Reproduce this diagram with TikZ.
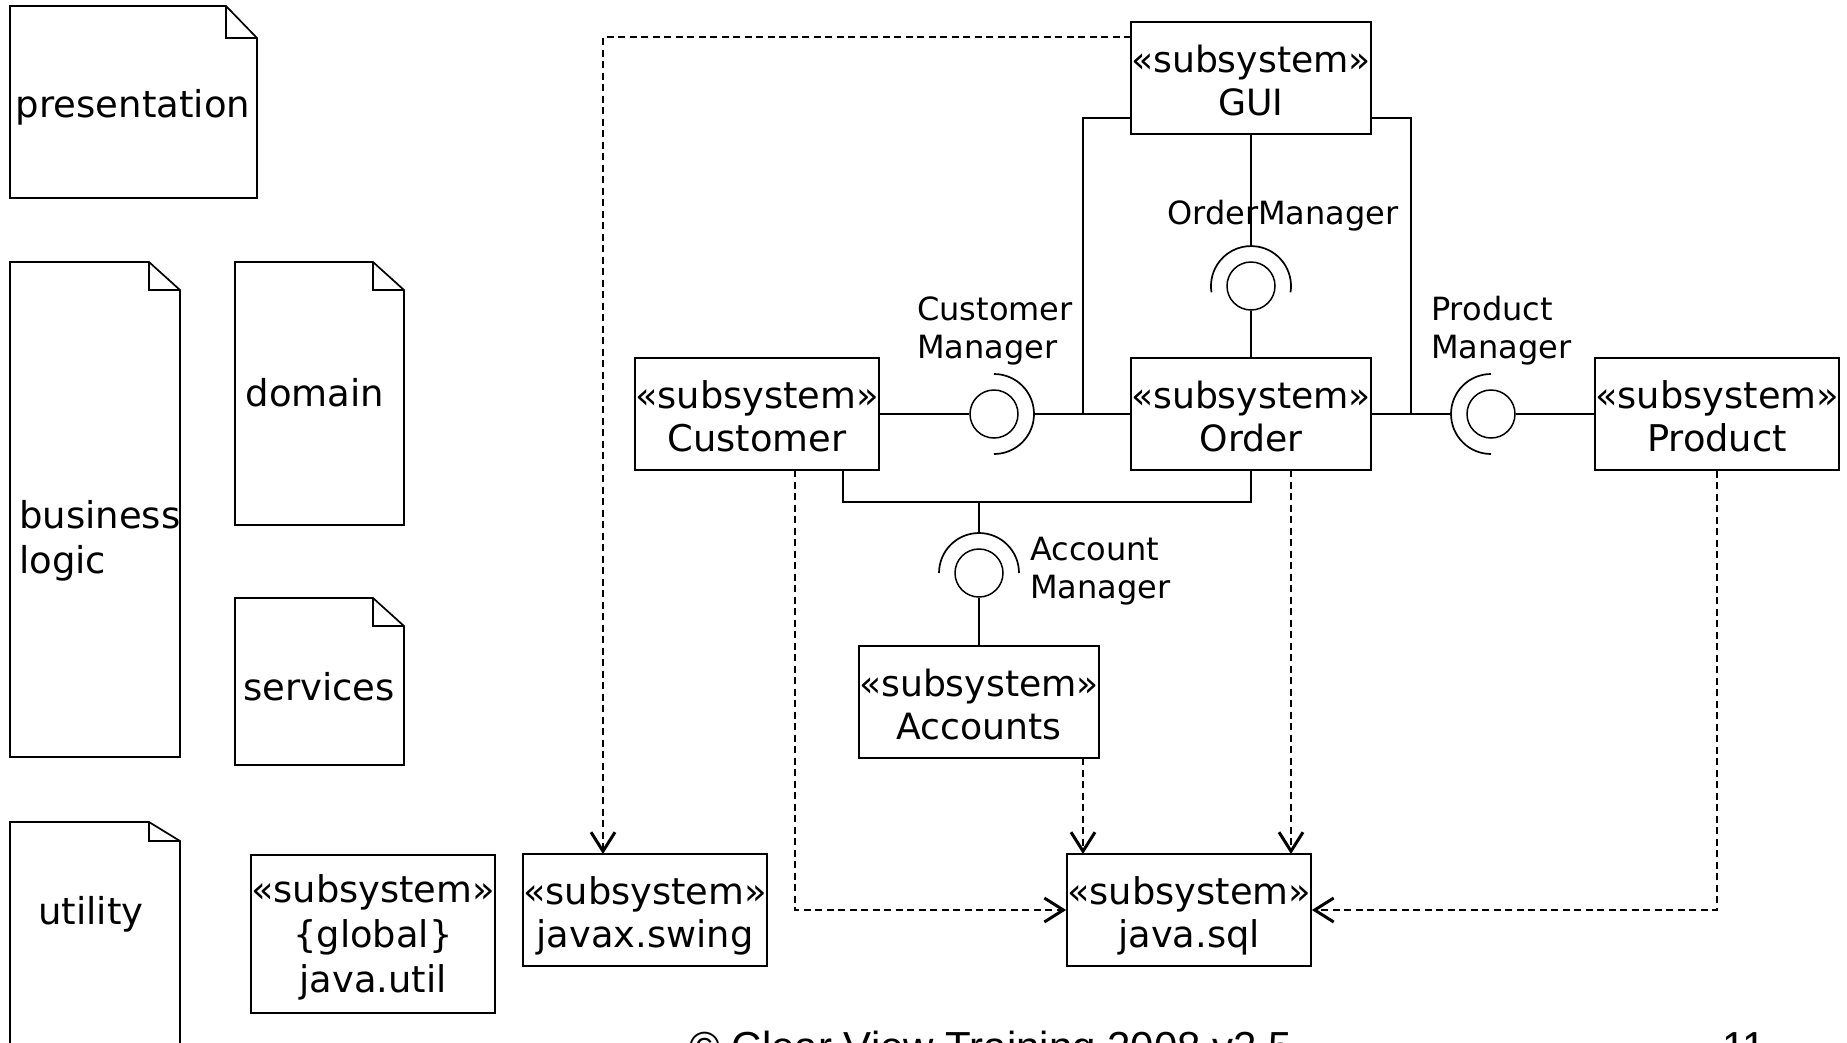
\documentclass[tikz,border=0pt]{standalone}
\usepackage{fontspec}
\setmainfont{DejaVu Sans}
\newfontfamily\footfont{Liberation Sans}
\usetikzlibrary{arrows.meta}
\newcommand{\zd}[1]{\raisebox{0pt}[\height][0pt]{#1}}
\newcommand{\stt}{\rule{0pt}{31.5pt}«subsystem»}
\begin{document}
\begin{tikzpicture}[x=1pt,y=-1pt,
  sub/.style={draw, line width=1.7pt, inner sep=0pt, minimum height=112pt, minimum width=244pt, align=center, font=\fontsize{36.8}{43}\selectfont},
  subn/.style={sub, minimum width=240pt, font=\fontsize{36.2}{43}\selectfont},
  ball/.style={draw, circle, line width=1.5pt, minimum size=48pt, inner sep=0pt},
  wire/.style={draw, line width=1.5pt},
  sock/.style={draw, line width=1.7pt},
  dep/.style={draw, line width=1.4pt, dash pattern=on 7pt off 4.5pt, -{Straight Barb[length=19pt,width=24pt,line width=3pt]}},
  notebox/.style={draw, line width=1.7pt, line join=miter},
  notetxt/.style={inner sep=0pt, font=\fontsize{37}{43}\selectfont},
  lbl/.style={inner sep=0pt, anchor=base west, font=\fontsize{32}{38}\selectfont},
]
\useasboundingbox (0,0) rectangle (1847,1042);
\clip (0,0) rectangle (1847,1042);

% notes (left column)
\draw[notebox] (10,6) -- (226,6) -- (257,38) -- (257,198) -- (10,198) -- cycle;
\draw[notebox] (226,6) -- (226,38) -- (257,38);
\node[notetxt, anchor=base] (presTxt) at (133,117) {presentation};

\draw[notebox] (10,262) -- (149,262) -- (180,290) -- (180,757) -- (10,757) -- cycle;
\draw[notebox] (149,262) -- (149,290) -- (180,290);
\node[notetxt, anchor=base west] (blTxt1) at (19,528) {business};
\node[notetxt, anchor=base west] (blTxt2) at (19,573) {logic};

\draw[notebox] (235,262) -- (373,262) -- (404,290) -- (404,525) -- (235,525) -- cycle;
\draw[notebox] (373,262) -- (373,290) -- (404,290);
\node[notetxt, anchor=base] (domTxt) at (315,406) {domain};

\draw[notebox] (235,598) -- (373,598) -- (404,626) -- (404,765) -- (235,765) -- cycle;
\draw[notebox] (373,598) -- (373,626) -- (404,626);
\node[notetxt, anchor=base] (srvTxt) at (319,700) {services};

\draw[notebox] (10,822) -- (149,822) -- (180,841) -- (180,1100) -- (10,1100) -- cycle;
\draw[notebox] (149,822) -- (149,841) -- (180,841);
\node[notetxt, anchor=base] (utilTxt) at (91,924) {utility};

% subsystems
\node[subn] (gui) at (1251,78) {\stt\\\zd{GUI}};
\node[subn] (order) at (1251,414) {\stt\\\zd{Order}};
\node[sub] (cust) at (757,414) {\stt\\\zd{Customer}};
\node[sub] (prod) at (1717,414) {\stt\\\zd{Product}};
\node[subn] (acc) at (979,702) {\stt\\\zd{Accounts}};
\node[sub] (swing) at (645,910) {\stt\\\zd{javax.swing}};
\node[sub] (sql) at (1189,910) {\stt\\\zd{java.sql}};
\node[sub, minimum height=158pt, font=\fontsize{36.8}{45}\selectfont] (util) at (373,934) {«subsystem»\\\{global\}\\\zd{java.util}};

% provided interfaces (balls)
\node[ball] (omBall) at (1251,286) {};
\node[ball] (cmBall) at (994,414) {};
\node[ball] (pmBall) at (1491,414) {};
\node[ball] (amBall) at (979,573) {};

% required interfaces (sockets)
\draw[sock] (1290.5,292.3) arc[start angle=9, end angle=-189, radius=40];
\draw[sock] (994,374) arc[start angle=-90, end angle=90, radius=40];
\draw[sock] (1491,374) arc[start angle=-90, end angle=-270, radius=40];
\draw[sock] (1019,573) arc[start angle=0, end angle=-180, radius=40];

\coordinate (omTop) at (1251,246);
\coordinate (cmR) at (1034,414);
\coordinate (pmL) at (1450,414);
\coordinate (amTop) at (979,533);

% interface labels
\node[lbl] (omLab) at (1167,224) {OrderManager};
\node[lbl] (cmLab1) at (917,320) {Customer};
\node[lbl] (cmLab2) at (917,358) {Manager};
\node[lbl] (pmLab1) at (1431,320) {Product};
\node[lbl] (pmLab2) at (1431,358) {Manager};
\node[lbl] (amLab1) at (1030,560) {Account};
\node[lbl] (amLab2) at (1030,598) {Manager};

% assembly wires
\draw[wire] (gui.south) -- (omTop);
\draw[wire] (omBall.south) -- (order.north);
\draw[wire] (cust.east) -- (cmBall.west);
\coordinate (guiL) at (1131,118);
\coordinate (jL) at (1083,414);
\draw[wire] (guiL) -| (jL);
\draw[wire] (cmR) -- (order.west);
\coordinate (guiR) at (1371,118);
\coordinate (jR) at (1411,414);
\draw[wire] (guiR) -| (jR);
\draw[wire] (order.east) -- (pmL);
\draw[wire] (pmBall.east) -- (prod.west);
\coordinate (custB) at (843,470);
\coordinate (brk) at (979,502);
\draw[wire] (custB) |- (brk) -| (order.south);
\draw[wire] (brk) -- (amTop);
\draw[wire] (amBall.south) -- (acc.north);

% dependencies
\coordinate (guiD) at (1131,37);
\coordinate (swingT) at (603,854);
\draw[dep] (guiD) -| (swingT);
\coordinate (custD) at (795,470);
\draw[dep] (custD) |- (sql.west);
\coordinate (accD) at (1083,758);
\coordinate (sqlT1) at (1083,854);
\draw[dep] (accD) -- (sqlT1);
\coordinate (ordD) at (1291,470);
\coordinate (sqlT2) at (1291,854);
\draw[dep] (ordD) -- (sqlT2);
\draw[dep] (prod.south) |- (sql.east);

% footer
\node[inner sep=0pt, anchor=base west, font=\footfont\fontsize{42}{48}\selectfont] (foot) at (689,1061) {© Clear View Training 2008 v2.5};
\node[inner sep=0pt, anchor=base west, font=\footfont\fontsize{42}{48}\selectfont] (pgno) at (1722,1061) {11};
\end{tikzpicture}
\end{document}
